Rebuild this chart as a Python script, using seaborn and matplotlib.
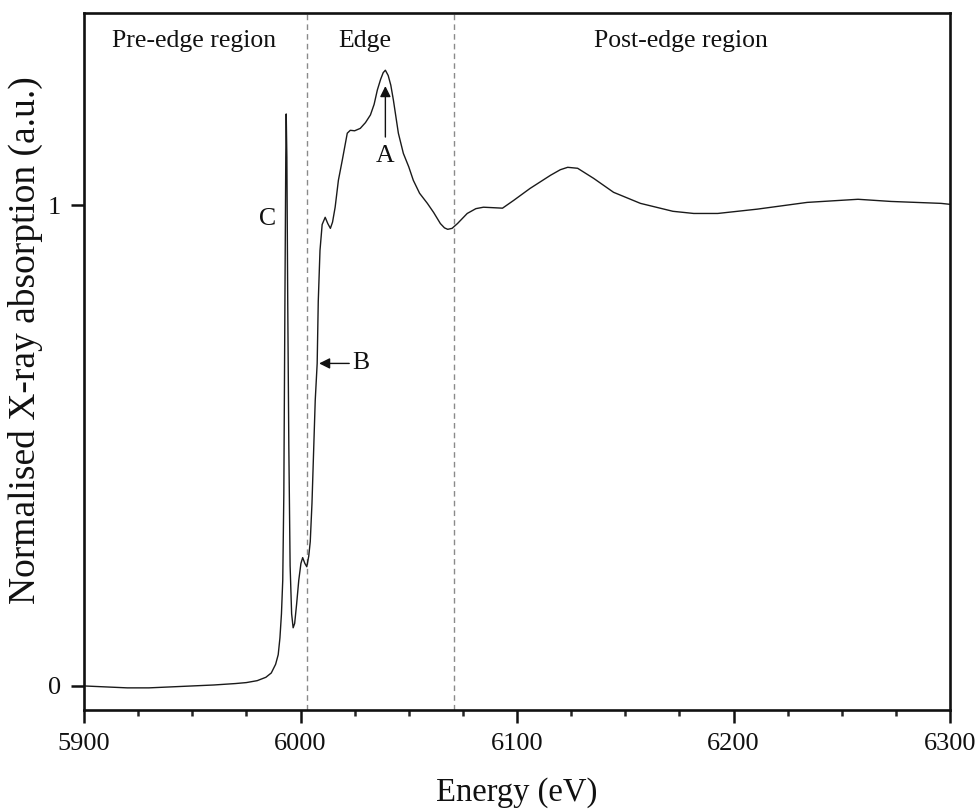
import matplotlib
matplotlib.use("Agg")
import matplotlib.pyplot as plt
import seaborn as sns
import pandas as pd
from matplotlib.ticker import MultipleLocator

# ---- data ----
energy = [5900, 5910, 5920, 5930, 5940, 5950, 5960, 5970, 5975, 5980, 5984,
          5986.5, 5988.5, 5989.7, 5990.5, 5991.2, 5991.8, 5992.3, 5992.8,
          5993.2, 5993.4, 5993.7, 5994.1, 5994.6, 5995.2, 5995.9, 5996.6,
          5997.3, 5998.2, 5999.2, 6000.2, 6001.0, 6002.0, 6002.9, 6003.8,
          6004.5, 6005.3, 6006.0, 6006.8, 6007.7, 6008.2, 6009.0, 6010.0,
          6011.4, 6012.6, 6013.8, 6014.8, 6016.0, 6017.5, 6019.3, 6021.6,
          6023.0, 6025.0, 6027.6, 6030.0, 6032.3, 6034.0, 6035.5, 6037.0,
          6038.2, 6039.2, 6040.5, 6041.7, 6042.9, 6045.2, 6047.5, 6050.0,
          6052.1, 6055.0, 6058.6, 6061.5, 6064.6, 6066.5, 6068.0, 6070.0,
          6072.5, 6077.0, 6081.0, 6084.5, 6089.0, 6093.3, 6098.4, 6106.0,
          6115.5, 6120.0, 6123.4, 6128.0, 6135.4, 6144.6, 6157.0, 6172.0,
          6181.6, 6192.7, 6211.0, 6234.0, 6257.5, 6272.7, 6295.8, 6300.0]
absorption = [0.000, -0.002, -0.004, -0.004, -0.002, 0.000, 0.002, 0.005,
              0.007, 0.011, 0.018, 0.027, 0.045, 0.065, 0.100, 0.150, 0.220,
              0.400, 0.800, 1.100, 1.190, 1.100, 0.800, 0.500, 0.250, 0.150,
              0.121, 0.130, 0.170, 0.220, 0.255, 0.267, 0.255, 0.248, 0.270,
              0.300, 0.380, 0.480, 0.594, 0.671, 0.800, 0.906, 0.960, 0.975,
              0.962, 0.952, 0.965, 0.996, 1.052, 1.094, 1.150, 1.156, 1.155,
              1.160, 1.172, 1.188, 1.210, 1.240, 1.262, 1.276, 1.281, 1.270,
              1.250, 1.219, 1.150, 1.108, 1.080, 1.052, 1.025, 1.004, 0.985,
              0.962, 0.953, 0.950, 0.952, 0.962, 0.983, 0.993, 0.996, 0.995,
              0.994, 1.010, 1.035, 1.0625, 1.074, 1.079, 1.077, 1.056, 1.027,
              1.004, 0.9875, 0.983, 0.983, 0.992, 1.006, 1.0125, 1.008, 1.004,
              1.002]

region_bounds = [6003, 6071]
region_labels = ["Pre-edge region", "Edge", "Post-edge region"]
region_label_x = [5951, 6029.5, 6175.6]
x_ticks = [5900, 6000, 6100, 6200, 6300]
y_ticks = [0, 1]

df = pd.DataFrame({"Energy": energy, "Absorption": absorption})

sns.set_theme(style="ticks")
plt.rcParams["font.family"] = ["Liberation Serif", "DejaVu Serif"]

fig = plt.figure(figsize=(9.79, 8.09), dpi=100)
ax = fig.add_axes([0.0858, 0.1224, 0.8846, 0.8615])

sns.lineplot(data=df, x="Energy", y="Absorption", ax=ax, sort=False,
             estimator=None, color="#1a1a1a", linewidth=1.0)

for xb in region_bounds:
    ax.axvline(xb, color="#8a8a8a", linestyle=(0, (4, 3)), linewidth=1.0, zorder=0)

for lab, xl in zip(region_labels, region_label_x):
    ax.text(xl, 1.342, lab, ha="center", va="center", fontsize=18.5, color="#111111")

# annotations
ax.text(5985, 0.971, "C", ha="center", va="center", fontsize=18.5, color="#111111")
ax.text(6039.2, 1.102, "A", ha="center", va="center", fontsize=18.5, color="#111111")
ax.annotate("", xy=(6039.2, 1.248), xytext=(6039.2, 1.142),
            arrowprops=dict(arrowstyle="-|>", color="#111111", lw=1.0,
                            mutation_scale=16, shrinkA=0, shrinkB=0))
ax.text(6028, 0.671, "B", ha="center", va="center", fontsize=18.5, color="#111111")
ax.annotate("", xy=(6008.6, 0.671), xytext=(6022.5, 0.671),
            arrowprops=dict(arrowstyle="-|>", color="#111111", lw=1.0,
                            mutation_scale=16, shrinkA=0, shrinkB=0))

ax.set_xlim(5900, 6300)
ax.set_ylim(-0.05, 1.4)
ax.set_xticks(x_ticks)
ax.set_yticks(y_ticks)
ax.xaxis.set_minor_locator(MultipleLocator(25))
ax.tick_params(axis="both", which="major", direction="out", length=9.5,
               width=1.8, labelsize=19, pad=7, colors="#111111")
ax.tick_params(axis="x", which="minor", direction="out", length=4.5, width=1.8)
for s in ax.spines.values():
    s.set_linewidth(1.9)
    s.set_color("#111111")
    s.set_visible(True)

ax.set_xlabel("Energy (eV)", fontsize=23.5, color="#111111")
ax.xaxis.set_label_coords(0.5, -0.096)
ax.set_ylabel("Normalised X-ray absorption (a.u.)", fontsize=27, color="#111111")
ax.yaxis.set_label_coords(-0.047, 0.53)

fig.savefig("out.png", dpi=100)
